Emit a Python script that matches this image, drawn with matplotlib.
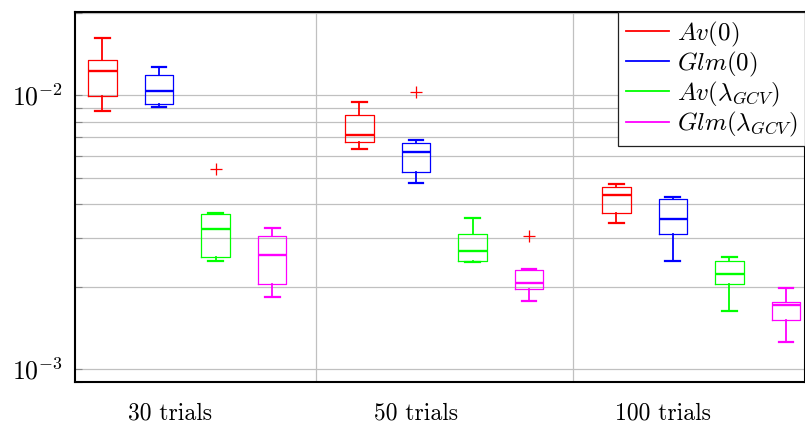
import matplotlib
matplotlib.use("Agg")
import matplotlib.pyplot as plt
from matplotlib.lines import Line2D
from matplotlib.ticker import LogLocator, NullFormatter

plt.rcParams['mathtext.fontset'] = 'cm'
plt.rcParams['font.family'] = ['cmr10', 'DejaVu Serif']
plt.rcParams['axes.formatter.use_mathtext'] = True

# Groups along the x axis
categories = ['30 trials', '50 trials', '100 trials']

# Series names (legend) and colours
series_labels = [r'$Av(0)$', r'$Glm(0)$', r'$Av(\lambda_{GCV})$', r'$Glm(\lambda_{GCV})$']
series_colors = ['#ff0000', '#0000ff', '#00ff00', '#ff00ff']

# Box statistics per group: (lower whisker, Q1, median, Q3, upper whisker)
av0_box = [(8.76e-3, 9.94e-3, 1.227e-2, 1.342e-2, 1.618e-2),
           (6.35e-3, 6.74e-3, 7.16e-3, 8.43e-3, 9.43e-3),
           (3.42e-3, 3.71e-3, 4.305e-3, 4.63e-3, 4.73e-3)]
glm0_box = [(9.06e-3, 9.30e-3, 1.037e-2, 1.186e-2, 1.268e-2),
            (4.77e-3, 5.22e-3, 6.21e-3, 6.68e-3, 6.85e-3),
            (2.484e-3, 3.10e-3, 3.535e-3, 4.184e-3, 4.255e-3)]
avgcv_box = [(2.48e-3, 2.57e-3, 3.24e-3, 3.67e-3, 3.72e-3),
             (2.468e-3, 2.472e-3, 2.703e-3, 3.118e-3, 3.566e-3),
             (1.632e-3, 2.038e-3, 2.228e-3, 2.478e-3, 2.57e-3)]
glmgcv_box = [(1.836e-3, 2.043e-3, 2.614e-3, 3.066e-3, 3.28e-3),
              (1.775e-3, 1.959e-3, 2.065e-3, 2.292e-3, 2.317e-3),
              (1.258e-3, 1.505e-3, 1.717e-3, 1.761e-3, 1.98e-3)]

# Outliers per group
av0_out = [[], [], []]
glm0_out = [[], [1.028e-2], []]
avgcv_out = [[5.37e-3], [], []]
glmgcv_out = [[], [3.058e-3], []]

all_boxes = [av0_box, glm0_box, avgcv_box, glmgcv_box]
all_out = [av0_out, glm0_out, avgcv_out, glmgcv_out]

W, H = 805, 425
fig = plt.figure(figsize=(W / 100, H / 100), dpi=100)
ax = fig.add_axes([75 / W, (H - 382) / H, 730 / W, 370 / H])

group_step = 5.0
box_step = 1.1
box_w = 0.55
cap_w = 0.29

for s, (boxes, outs, col) in enumerate(zip(all_boxes, all_out, series_colors)):
    stats = []
    positions = []
    for g, (b, o) in enumerate(zip(boxes, outs)):
        lo, q1, med, q3, hi = b
        stats.append(dict(whislo=lo, q1=q1, med=med, q3=q3, whishi=hi, fliers=o))
        positions.append(g * group_step + s * box_step)
    ax.bxp(stats, positions=positions, widths=box_w, capwidths=cap_w,
           showfliers=True, manage_ticks=False,
           boxprops=dict(color=col, linewidth=0.9),
           medianprops=dict(color=col, linewidth=1.7),
           whiskerprops=dict(color=col, linewidth=1.3),
           capprops=dict(color=col, linewidth=1.6),
           flierprops=dict(marker='+', markeredgecolor='#ff0000',
                           markersize=8, markeredgewidth=0.9, linestyle='none'))

ax.set_yscale('log')
ax.set_ylim(8.97e-4, 2.009e-2)
ax.set_xlim(-0.535, 13.67)

ax.yaxis.set_major_locator(LogLocator(base=10, numticks=10))
ax.yaxis.set_minor_locator(LogLocator(base=10, subs=range(2, 10), numticks=20))
ax.yaxis.set_minor_formatter(NullFormatter())
ax.grid(True, which='both', axis='y', color='#c0c0c0', linewidth=0.9)

# Group separators
for g in range(len(categories) - 1):
    ax.axvline(g * group_step + 3 * box_step + (group_step - 3 * box_step) / 2,
               color='#c0c0c0', linewidth=0.9, zorder=0.5)

label_offset = 1.31
label_step = 4.8
ax.set_xticks([label_offset + g * label_step for g in range(len(categories))])
ax.set_xticklabels(categories)
ax.tick_params(axis='x', length=0, pad=15, labelsize=17)
ax.tick_params(axis='y', which='both', direction='in', length=5, width=0.8,
               color='#888888', labelsize=18.5, pad=9)
ax.set_axisbelow(True)

for side in ['left', 'bottom', 'top', 'right']:
    ax.spines[side].set_linewidth(1.5)
    ax.spines[side].set_color('black')

handles = [Line2D([], [], color=c, linewidth=1.3) for c in series_colors]
leg = ax.legend(handles, series_labels, loc='upper right', bbox_to_anchor=(1.0, 1.0),
                borderaxespad=0.0, fontsize=18, frameon=True, fancybox=False,
                framealpha=1.0, edgecolor='#222222', handlelength=1.75,
                handletextpad=0.3, labelspacing=0.04, borderpad=0.3)
leg.get_frame().set_linewidth(0.9)

fig.savefig('out.png', dpi=100)
